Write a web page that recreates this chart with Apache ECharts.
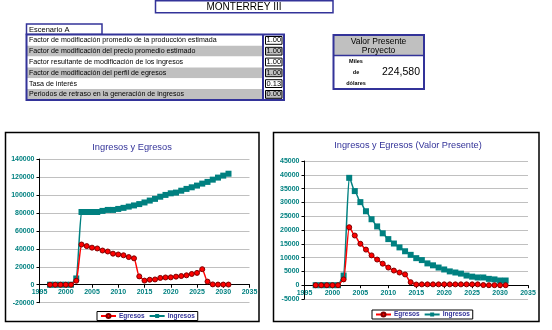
<!DOCTYPE html>
<html><head><meta charset="utf-8">
<script src="https://cdn.jsdelivr.net/npm/echarts@6/dist/echarts.min.js"></script>
<style>html,body{margin:0;padding:0;background:#fff}#c{width:552px;height:330px}</style>
</head><body><div id="c"></div>
<script>
const years = [1997,1998,1999,2000,2001,2002,2003,2004,2005,2006,2007,2008,2009,2010,2011,2012,2013,2014,2015,2016,2017,2018,2019,2020,2021,2022,2023,2024,2025,2026,2027,2028,2029,2030,2031];
const ingresosNominal = [0,0,0,0,0,7000,81000,81000,81000,81000,82200,83300,83300,84400,85600,87000,88300,89800,91600,93700,95600,98000,100000,101800,102600,104700,106700,108500,110400,112600,114500,117000,119300,121500,123600];
const egresosNominal = [0,0,0,0,0,4400,44800,43000,41300,40400,38100,37000,34600,33700,32800,30800,29400,9300,4600,5600,5900,7600,8100,8200,9000,9700,10500,12000,13200,17300,3500,400,200,200,200];
const ingresosVP = [0,0,0,0,0,3500,38900,34100,30100,26800,23900,21300,18800,16700,15100,13700,12300,11000,9800,9100,7900,7200,6400,5700,5000,4600,4200,3500,3100,2800,2800,2300,2100,1700,1700];
const egresosVP = [0,0,0,0,0,2100,21000,18000,15000,12900,10800,9300,7800,6400,5300,4600,3900,1100,250,300,300,300,300,300,300,300,300,300,300,300,50,0,0,0,0];

const tableLabels = ["Factor de modificación promedio de la producción estimada","Factor de modificación del precio promedio estimado","Factor resultante de modificación de los ingresos","Factor de modificación del perfil de egresos","Tasa de interés","Periodos de retraso en la generación de ingresos"];
const tableValues = ["1.00","1.00","1.00","1.00","0.13","0.00"];
const vpValue = "224,580";

const BLUE = '#333399', TEAL = '#008080', RED = '#ff0000', GREY = '#c0c0c0';
const FONT = 'Liberation Sans, Arial, sans-serif';
const pairs = (ys) => years.map((y, i) => [y, ys[i]]);

const g = [];
g.push({type:'rect', shape:{x:155.5,y:0.75,width:177.5,height:12}, style:{fill:'#fff',stroke:BLUE,lineWidth:1.5}});
g.push({type:'text', style:{text:'MONTERREY III', x:244, y:7, textAlign:'center', textVerticalAlign:'middle', font:'10px '+FONT, fill:'#000'}});
g.push({type:'rect', shape:{x:26.5,y:24,width:75.5,height:10.5}, style:{fill:'#fff',stroke:BLUE,lineWidth:1.5}});
g.push({type:'text', style:{text:'Escenario A', x:29, y:29.5, textVerticalAlign:'middle', font:'7.5px '+FONT, fill:'#000'}});
const rowTop = 35, rowH = 10.8;
tableLabels.forEach((lab, i) => {
  const y = rowTop + i*rowH;
  const grey = i % 2 === 1;
  g.push({type:'rect', shape:{x:27,y:y,width:235,height:rowH}, style:{fill:grey?GREY:'#fff'}});
  g.push({type:'text', style:{text:lab, x:29, y:y+rowH/2, textVerticalAlign:'middle', font:'7.1px '+FONT, fill:'#000'}});
  g.push({type:'rect', shape:{x:265.5,y:y+1.5,width:16.5,height:rowH-3}, style:{fill:grey?GREY:'#fff',stroke:'#000',lineWidth:1}});
  g.push({type:'text', style:{text:tableValues[i], x:273.8, y:y+rowH/2, textAlign:'center', textVerticalAlign:'middle', font:'7.5px '+FONT, fill:'#000'}});
});
g.push({type:'rect', shape:{x:262,y:34.5,width:2,height:65.5}, style:{fill:BLUE}});
g.push({type:'rect', shape:{x:26.5,y:34.5,width:257.5,height:65.5}, style:{fill:'none',stroke:BLUE,lineWidth:2}});
g.push({type:'rect', shape:{x:333.5,y:35,width:90.5,height:20}, style:{fill:GREY}});
g.push({type:'line', shape:{x1:333.5,y1:55.5,x2:424,y2:55.5}, style:{stroke:BLUE,lineWidth:1.5}});
g.push({type:'rect', shape:{x:333.5,y:35,width:90.5,height:54}, style:{fill:'none',stroke:BLUE,lineWidth:2}});
g.push({type:'text', style:{text:'Valor Presente', x:378.5, y:41.5, textAlign:'center', textVerticalAlign:'middle', font:'8.5px '+FONT, fill:'#000'}});
g.push({type:'text', style:{text:'Proyecto', x:378.5, y:51, textAlign:'center', textVerticalAlign:'middle', font:'8.5px '+FONT, fill:'#000'}});
g.push({type:'text', style:{text:'Miles', x:356, y:61, textAlign:'center', textVerticalAlign:'middle', font:'bold 5.5px '+FONT, fill:'#000'}});
g.push({type:'text', style:{text:'de', x:356, y:72, textAlign:'center', textVerticalAlign:'middle', font:'bold 5.5px '+FONT, fill:'#000'}});
g.push({type:'text', style:{text:'dólares', x:356, y:83, textAlign:'center', textVerticalAlign:'middle', font:'bold 5.5px '+FONT, fill:'#000'}});
g.push({type:'text', style:{text:vpValue, x:401, y:72.5, textAlign:'center', textVerticalAlign:'middle', font:'10.5px '+FONT, fill:'#000'}});
g.push({type:'rect', shape:{x:5.5,y:132.5,width:253.5,height:189}, z:-10, style:{fill:'#fff',stroke:'#000',lineWidth:1.5}});
g.push({type:'rect', shape:{x:273.5,y:132.5,width:265.5,height:189}, z:-10, style:{fill:'#fff',stroke:'#000',lineWidth:1.5}});
g.push({type:'text', style:{text:'Ingresos y Egresos', x:132, y:147, textAlign:'center', textVerticalAlign:'middle', font:'9.3px '+FONT, fill:BLUE}});
g.push({type:'text', style:{text:'Ingresos y Egresos (Valor Presente)', x:408, y:145.5, textAlign:'center', textVerticalAlign:'middle', font:'9.2px '+FONT, fill:BLUE}});

const labelStyle = {color:TEAL, fontSize:7, fontFamily:FONT, fontWeight:'bold'};
function xAx(gi, off){
  return {type:'value', gridIndex:gi, min:1995, max:2035, interval:5, position:'bottom', offset:off,
    axisLine:{onZero:false, lineStyle:{color:'#000',width:1}},
    axisTick:{show:true, length:3, lineStyle:{color:'#000'}},
    axisLabel:Object.assign({margin:4, formatter:v=>String(v)}, labelStyle),
    splitLine:{show:false}};
}
function yAx(gi, min, max, interval){
  return {type:'value', gridIndex:gi, min:min, max:max, interval:interval,
    axisLine:{show:true, onZero:false, lineStyle:{color:'#000',width:1}},
    axisTick:{show:true, length:3, lineStyle:{color:'#000'}},
    axisLabel:Object.assign({margin:5, formatter:v=>String(v)}, labelStyle),
    splitLine:{show:true, lineStyle:{color:GREY, width:1}}};
}
function ser(name, gi, data){
  const isIng = name === 'Ingresos';
  return {name:name, type:'line', xAxisIndex:gi, yAxisIndex:gi, data:data,
    smooth:0.25, smoothMonotone:'x',
    symbol: isIng ? 'rect' : 'circle', symbolSize: isIng ? 6 : 5,
    lineStyle:{color: isIng ? TEAL : RED, width:1.5},
    itemStyle:{color: isIng ? TEAL : RED, borderColor: isIng ? TEAL : '#800000', borderWidth: isIng ? 0 : 1},
    z: isIng ? 2 : 3, animation:false};
}
const H0 = 143.7, H1 = 138;
const legendBase = {data:['Egresos','Ingresos'], orient:'horizontal', itemWidth:15, itemHeight:5, itemGap:4,
  padding:[1,3], borderColor:'#000', borderWidth:1, backgroundColor:'#fff',
  textStyle:{color:BLUE, fontSize:6.5, fontFamily:FONT, fontWeight:'bold', padding:[0,0,0,-2]}};

const chart = echarts.init(document.getElementById('c'), null, {renderer:'canvas'});
chart.setOption({
  animation:false,
  graphic:g,
  grid:[
    {left:39.5, top:159, width:210, height:H0},
    {left:304.5, top:161, width:223.5, height:H1}
  ],
  xAxis:[xAx(0, -H0*20000/160000), xAx(1, -H1*5000/50000)],
  yAxis:[yAx(0,-20000,140000,20000), yAx(1,-5000,45000,5000)],
  legend:[
    Object.assign({left:97, top:311.5}, legendBase),
    Object.assign({left:372, top:310}, legendBase)
  ],
  series:[
    ser('Egresos',0,pairs(egresosNominal)),
    ser('Ingresos',0,pairs(ingresosNominal)),
    ser('Egresos',1,pairs(egresosVP)),
    ser('Ingresos',1,pairs(ingresosVP))
  ]
});
</script></body></html>
